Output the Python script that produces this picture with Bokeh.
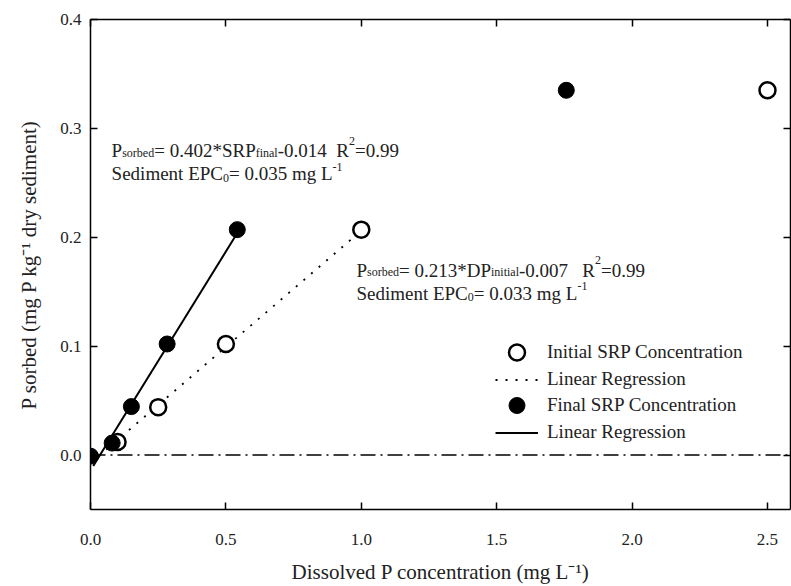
from bokeh.plotting import figure
from bokeh.models import (Range1d, LinearAxis, FixedTicker, NumeralTickFormatter, Label,
                          Legend, LegendItem, CustomJSTickFormatter)
from bokeh.embed import file_html
from bokeh.resources import INLINE

# ---------------- data ----------------
initial_x = [0.10, 0.25, 0.50, 1.00, 2.50]
initial_y = [0.012, 0.044, 0.102, 0.207, 0.335]
final_x = [0.00, 0.08, 0.151, 0.283, 0.542, 1.757]
final_y = [-0.001, 0.011, 0.0445, 0.102, 0.207, 0.335]
reg_initial_x = [0.03, 1.00]
reg_initial_y = [-0.001, 0.206]
reg_final_x = [0.01, 0.545]
reg_final_y = [-0.010, 0.205]
zero_x = [0.0, 2.6]
zero_y = [0.0, 0.0]
x_ticks = [0.0, 0.5, 1.0, 1.5, 2.0, 2.5]
y_ticks = [0.0, 0.1, 0.2, 0.3, 0.4]
legend_labels = ["Initial SRP Concentration", "Linear Regression",
                 "Final SRP Concentration", "Linear Regression"]

FONT = "Liberation Serif"
NB = "\u00a0"

p = figure(width=791, height=586, x_range=Range1d(0, 2.585), y_range=Range1d(-0.05, 0.4),
           output_backend="svg", toolbar_location=None,
           min_border_left=90, min_border_right=1, min_border_top=19, min_border_bottom=75,
           x_axis_label="Dissolved P concentration (mg L\u207b\u00b9)",
           y_axis_label="P sorbed (mg P kg\u207b\u00b9 dry sediment)")
p.grid.visible = False
p.outline_line_color = None
p.background_fill_color = "white"


def style_axis(ax, ticks, fmt):
    ax.ticker = FixedTicker(ticks=ticks)
    ax.formatter = fmt
    ax.major_tick_in = 7
    ax.major_tick_out = 0
    ax.minor_tick_in = 0
    ax.minor_tick_out = 0
    ax.axis_line_width = 1.5
    ax.axis_line_color = "black"
    ax.major_tick_line_width = 1.5
    ax.major_tick_line_color = "black"
    ax.major_label_text_font = FONT
    ax.major_label_text_font_size = "17px"
    ax.major_label_text_color = "#222222"
    ax.axis_label_text_font = FONT
    ax.axis_label_text_font_size = "21px"
    ax.axis_label_text_font_style = "normal"
    ax.axis_label_text_color = "#222222"


for ax in p.xaxis:
    style_axis(ax, x_ticks, NumeralTickFormatter(format="0.0"))
    ax.major_label_standoff = 24
    ax.axis_label_standoff = 12
for ax in p.yaxis:
    style_axis(ax, y_ticks, NumeralTickFormatter(format="0.0"))
    ax.major_label_standoff = 9
    ax.axis_label_standoff = 16

top = LinearAxis()
style_axis(top, x_ticks, CustomJSTickFormatter(code="return ''"))
top.major_label_standoff = 0
p.add_layout(top, "above")
right = LinearAxis()
style_axis(right, y_ticks, CustomJSTickFormatter(code="return ''"))
right.major_label_standoff = 0
p.add_layout(right, "right")

# zero reference line
p.line(zero_x, zero_y, line_color="black", line_width=1.5, line_dash="15 5 2 5")

# regression lines
r_dot = p.line(reg_initial_x, reg_initial_y, line_color="black", line_width=1.8, line_dash="2 8")
r_sol = p.line(reg_final_x, reg_final_y, line_color="black", line_width=2)

# points
r_open = p.scatter(initial_x, initial_y, marker="circle", size=16, fill_color="white",
                   line_color="black", line_width=2.5)
r_fill = p.scatter(final_x, final_y, marker="circle", size=16, fill_color="black",
                   line_color="black", line_width=1)

# legend: one single-row legend per entry, so marker rows can be tall (full-size
# markers) while the rows stay 27 px apart as in the reference
legend_renderers = [r_open, r_dot, r_fill, r_sol]
row_glyph_h = [40, 27, 40, 27]
row_center_from_frame_bottom = [157, 130, 104, 77]
for lab, rend, gh, cy in zip(legend_labels, legend_renderers, row_glyph_h,
                             row_center_from_frame_bottom):
    lg = Legend(items=[LegendItem(label=lab, renderers=[rend])],
                location=(405, cy - gh / 2), padding=0, margin=0, border_line_color=None,
                background_fill_alpha=0, glyph_width=43, glyph_height=gh, label_height=gh,
                spacing=0, label_standoff=9, label_text_font=FONT,
                label_text_font_size="19px", label_text_color="#222222")
    p.add_layout(lg, "center")

# ---------------- equation annotations ----------------
W = {' ': 250, NB: 250, '.': 250, '=': 564, '*': 500, '-': 333, 'P': 556, 'S': 556,
     'R': 667, 'D': 722, 'E': 611, 'C': 667, 'L': 611, 'a': 444, 'b': 500, 'd': 500,
     'e': 444, 'f': 333, 'g': 500, 'i': 278, 'l': 278, 'm': 778, 'n': 500, 'o': 500,
     'r': 333, 's': 389, 't': 278}
MAIN, SMALL = 19, 12


def width(s, size):
    return sum(W.get(c, 500) for c in s) * size / 1000.0


def add_line(x, y, y_off, segments):
    cursor = 0.0
    for txt, kind in segments:
        size = MAIN if kind == "n" else SMALL
        dy = {"n": 0, "sub": -2, "sub0": -4, "sup": 10, "sup1": 7}[kind]
        p.add_layout(Label(x=x, y=y, x_offset=cursor, y_offset=y_off + dy, text=txt,
                           text_font=FONT, text_font_size=f"{size}px",
                           text_color="#222222", text_baseline="alphabetic",
                           text_align="left"))
        cursor += width(txt, size)


eq1 = [("P", "n"), ("sorbed", "sub"), ("=" + NB + "0.402*SRP", "n"), ("final", "sub"),
       ("-0.014" + NB * 2 + "R", "n"), ("2", "sup"), ("=0.99", "n")]
epc1 = [("Sediment" + NB + "EPC", "n"), ("0", "sub0"), ("=" + NB + "0.035 mg L", "n"),
        ("-1", "sup1")]
eq2 = [("P", "n"), ("sorbed", "sub"), ("=" + NB + "0.213*DP", "n"), ("initial", "sub"),
       ("-0.007" + NB * 3 + "R", "n"), ("2", "sup"), ("=0.99", "n")]
epc2 = [("Sediment" + NB + "EPC", "n"), ("0", "sub0"), ("=" + NB + "0.033 mg L", "n"),
        ("-1", "sup1")]

add_line(0.078, 0.2795, 0, eq1)
add_line(0.078, 0.2795, -23, epc1)
add_line(0.982, 0.1698, 0, eq2)
add_line(0.982, 0.1698, -23, epc2)

open("out.html", "w").write(file_html(p, INLINE))
